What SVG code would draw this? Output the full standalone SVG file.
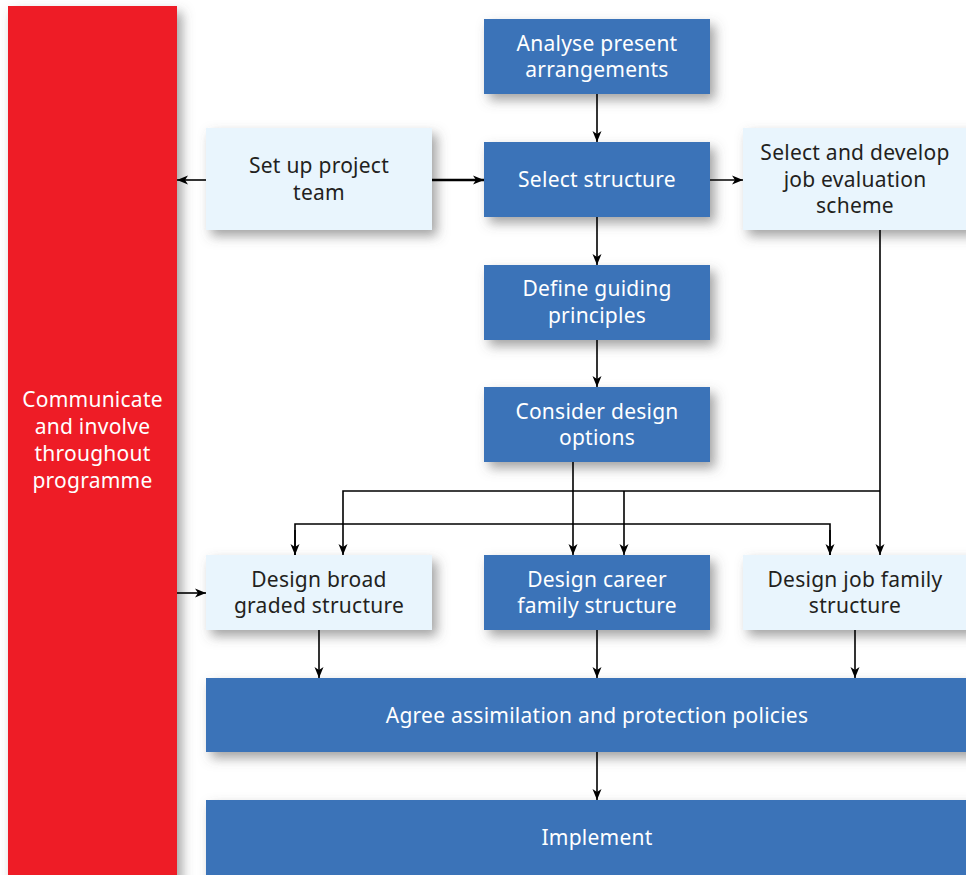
<svg xmlns="http://www.w3.org/2000/svg" width="966" height="875" viewBox="0 0 966 875">
<defs>
<filter id="sh" x="-10%" y="-20%" width="130%" height="150%">
<feDropShadow dx="5" dy="6" stdDeviation="6" flood-color="#555" flood-opacity="0.55"/>
</filter>
<marker id="ah" markerWidth="11" markerHeight="11" viewBox="0 0 11 10" refX="11" refY="5" orient="auto" markerUnits="userSpaceOnUse">
<path d="M0,0.5 L11,5 L0,9.5 L3,5 Z" fill="#000"/>
</marker>
</defs>
<style>
.blue{fill:#3A73B8;filter:url(#sh)}
.light{fill:#E9F5FD;filter:url(#sh)}
.red{fill:#EE1D25;filter:url(#sh)}
text{font-family:"Noto Sans","Liberation Sans",sans-serif;font-size:21px;letter-spacing:0.25px;text-anchor:middle}
.w{fill:#fff}
.d{fill:#231F20}
.c{fill:none;stroke:#000;stroke-width:1.6}
.ca{fill:none;stroke:#000;stroke-width:1.6;marker-end:url(#ah)}
</style>
<rect width="966" height="875" fill="#fff"/>
<g id="communicate">
<rect class="red" x="8" y="6" width="169" height="875"/>
<text class="w" x="92.5" y="407">Communicate</text>
<text class="w" x="92.5" y="434">and involve</text>
<text class="w" x="92.5" y="461">throughout</text>
<text class="w" x="92.5" y="488">programme</text>
</g>
<g id="analyse">
<rect class="blue" x="484" y="19" width="226" height="75"/>
<text class="w" x="597" y="51">Analyse present</text>
<text class="w" x="597" y="77">arrangements</text>
</g>
<g id="setup">
<rect class="light" x="206" y="128" width="226" height="102"/>
<text class="d" x="319" y="173">Set up project</text>
<text class="d" x="319" y="200">team</text>
</g>
<g id="selectstructure">
<rect class="blue" x="484" y="142" width="226" height="75"/>
<text class="w" x="597" y="187">Select structure</text>
</g>
<g id="jobeval">
<rect class="light" x="743" y="128" width="230" height="102"/>
<text class="d" x="855" y="160">Select and develop</text>
<text class="d" x="855" y="187">job evaluation</text>
<text class="d" x="855" y="213">scheme</text>
</g>
<g id="define">
<rect class="blue" x="484" y="265" width="226" height="75"/>
<text class="w" x="597" y="296">Define guiding</text>
<text class="w" x="597" y="323">principles</text>
</g>
<g id="consider">
<rect class="blue" x="484" y="387" width="226" height="75"/>
<text class="w" x="597" y="419">Consider design</text>
<text class="w" x="597" y="445">options</text>
</g>
<g id="broad">
<rect class="light" x="206" y="555" width="226" height="75"/>
<text class="d" x="319" y="587">Design broad</text>
<text class="d" x="319" y="613">graded structure</text>
</g>
<g id="career">
<rect class="blue" x="484" y="555" width="226" height="75"/>
<text class="w" x="597" y="587">Design career</text>
<text class="w" x="597" y="613">family structure</text>
</g>
<g id="jobfamily">
<rect class="light" x="743" y="555" width="230" height="75"/>
<text class="d" x="855" y="587">Design job family</text>
<text class="d" x="855" y="613">structure</text>
</g>
<g id="agree">
<rect class="blue" x="206" y="678" width="770" height="74"/>
<text class="w" x="597" y="723">Agree assimilation and protection policies</text>
</g>
<g id="implement">
<rect class="blue" x="206" y="800" width="770" height="80"/>
<text class="w" x="597" y="845">Implement</text>
</g>
<g id="connectors">
<line class="ca" x1="597" y1="94" x2="597" y2="142"/>
<line class="ca" x1="206" y1="180" x2="177" y2="180"/>
<line class="ca" x1="432" y1="180" x2="484" y2="180" style="stroke-width:2.6"/>
<line class="ca" x1="710" y1="180" x2="743" y2="180"/>
<line class="ca" x1="597" y1="217" x2="597" y2="265"/>
<line class="ca" x1="597" y1="340" x2="597" y2="387"/>
<line class="ca" x1="573" y1="462" x2="573" y2="555"/>
<line class="ca" x1="880" y1="230" x2="880" y2="555"/>
<polyline class="ca" points="880,491 343,491 343,555"/>
<line class="ca" x1="624" y1="491" x2="624" y2="555"/>
<polyline class="c" points="295,555 295,524 830,524 830,555"/>
<line class="ca" x1="295" y1="530" x2="295" y2="555"/>
<line class="ca" x1="830" y1="530" x2="830" y2="555"/>
<line class="ca" x1="177" y1="593" x2="206" y2="593"/>
<line class="ca" x1="319" y1="630" x2="319" y2="678"/>
<line class="ca" x1="597" y1="630" x2="597" y2="678"/>
<line class="ca" x1="855" y1="630" x2="855" y2="678"/>
<line class="ca" x1="597" y1="752" x2="597" y2="800"/>
</g>
</svg>
